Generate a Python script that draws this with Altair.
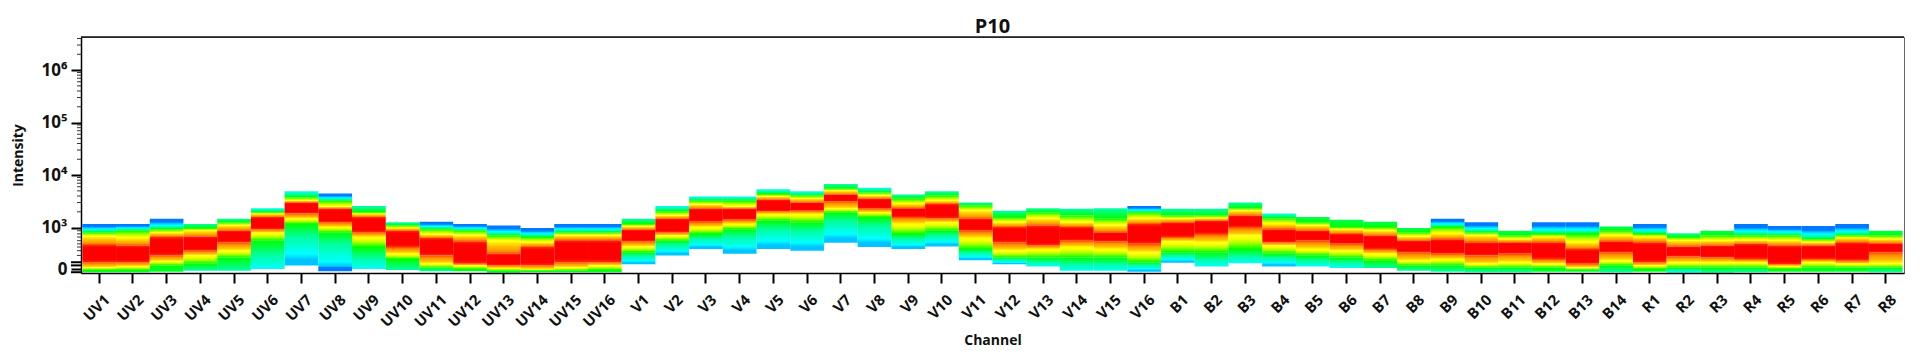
import altair as alt
import pandas as pd

uv = ["UV%d" % i for i in range(1, 17)]
v = ["V%d" % i for i in range(1, 17)]
b = ["B%d" % i for i in range(1, 15)]
r = ["R%d" % i for i in range(1, 9)]
channels = uv + v + b + r

# Density band edges per channel, in decades of intensity on the display scale:
# top, green top, yellow top, red top, red bottom, yellow bottom, green bottom, bottom
edges_uv = [
    [3.07,2.91,2.83,2.67,2.34,2.24,2.19,2.15],[3.07,2.94,2.80,2.66,2.34,2.26,2.19,2.15],
    [3.17,2.97,2.90,2.82,2.47,2.36,2.28,2.16],[3.07,2.99,2.94,2.83,2.56,2.47,2.31,2.18],
    [3.17,3.10,3.04,2.94,2.72,2.56,2.43,2.18],[3.37,3.29,3.26,3.20,2.97,2.90,2.75,2.21],
    [3.69,3.58,3.51,3.48,3.27,3.17,3.07,2.28],[3.65,3.51,3.40,3.36,3.10,3.01,2.91,2.17],
    [3.41,3.29,3.26,3.20,2.91,2.82,2.63,2.21],[3.10,3.04,2.99,2.94,2.63,2.50,2.40,2.19],
    [3.11,2.97,2.87,2.80,2.47,2.31,2.24,2.17],[3.07,2.94,2.85,2.74,2.31,2.28,2.21,2.17],
    [3.04,2.85,2.74,2.50,2.28,2.23,2.18,2.14],[2.99,2.82,2.72,2.63,2.28,2.21,2.18,2.15],
    [3.07,2.91,2.85,2.76,2.34,2.24,2.18,2.15],[3.07,2.91,2.85,2.76,2.34,2.28,2.19,2.15],
]
edges_v = [
    [3.17,3.07,3.02,2.96,2.74,2.64,2.53,2.30],[3.41,3.31,3.23,3.17,2.91,2.85,2.75,2.47],
    [3.59,3.51,3.44,3.36,3.11,3.01,2.88,2.59],[3.59,3.51,3.40,3.36,3.15,3.07,2.97,2.50],
    [3.73,3.64,3.59,3.53,3.31,3.26,3.13,2.59],[3.69,3.61,3.55,3.48,3.32,3.26,3.10,2.56],
    [3.83,3.74,3.70,3.63,3.50,3.36,3.29,2.71],[3.76,3.67,3.61,3.55,3.36,3.29,3.20,2.63],
    [3.63,3.55,3.45,3.37,3.20,3.07,2.88,2.59],[3.69,3.61,3.51,3.45,3.18,3.10,2.94,2.64],
    [3.48,3.42,3.32,3.17,2.94,2.80,2.59,2.38],[3.32,3.20,3.10,3.01,2.72,2.56,2.43,2.30],
    [3.37,3.29,3.17,3.04,2.66,2.59,2.43,2.26],[3.36,3.23,3.10,3.01,2.75,2.63,2.43,2.18],
    [3.37,3.17,3.04,2.91,2.74,2.59,2.43,2.18],[3.41,3.29,3.17,3.07,2.69,2.53,2.34,2.16],
]
edges_b = [
    [3.36,3.23,3.17,3.10,2.82,2.74,2.53,2.33],[3.36,3.23,3.18,3.13,2.88,2.72,2.53,2.26],
    [3.48,3.37,3.32,3.23,3.01,2.85,2.59,2.32],[3.27,3.18,3.07,2.97,2.72,2.66,2.50,2.26],
    [3.20,3.10,3.04,2.94,2.75,2.59,2.47,2.26],[3.15,3.01,2.97,2.88,2.69,2.56,2.43,2.23],
    [3.11,3.01,2.94,2.85,2.59,2.50,2.37,2.23],[2.99,2.91,2.83,2.75,2.53,2.37,2.28,2.18],
    [3.17,3.01,2.88,2.78,2.50,2.40,2.28,2.16],[3.10,2.91,2.85,2.72,2.47,2.31,2.24,2.15],
    [2.94,2.85,2.78,2.72,2.50,2.34,2.24,2.15],[3.10,2.88,2.82,2.72,2.40,2.31,2.24,2.16],
    [3.10,2.88,2.72,2.59,2.31,2.24,2.20,2.16],[3.02,2.94,2.85,2.74,2.53,2.37,2.28,2.15],
]
edges_r = [
    [3.07,2.88,2.82,2.72,2.34,2.28,2.21,2.16],[2.89,2.82,2.75,2.64,2.45,2.34,2.24,2.14],
    [2.94,2.85,2.75,2.66,2.43,2.34,2.24,2.14],[3.07,2.85,2.76,2.69,2.40,2.34,2.24,2.15],
    [3.03,2.85,2.75,2.66,2.30,2.27,2.21,2.16],[3.03,2.78,2.72,2.66,2.40,2.34,2.24,2.16],
    [3.07,2.85,2.80,2.72,2.37,2.31,2.24,2.16],[2.94,2.85,2.78,2.70,2.53,2.32,2.24,2.15],
]
edges = edges_uv + edges_v + edges_b + edges_r

top_tone = list("bbbssccbssbbbbbb" + "sccccc" + "scsssssssb" + "sssc" + "gggg" + "bbgbbg" + "bsgbbbbg")
bot_tone = list("gggsscabcssggggg" + "aaaaaaaaaaaa" + "ccca" + "accacc" + "ssss" + "sggs" + "gcssgggs")

major_ticks = [2.21, 3, 4, 5, 6]
thick_ticks = [2.15, 2.28, 2.34]
minor_ticks = [2.47, 2.56, 2.63, 2.69, 2.75, 2.82, 2.88, 2.94,
               3.301, 3.477, 3.602, 3.699, 3.778, 3.845, 3.903, 3.954,
               4.301, 4.477, 4.602, 4.699, 4.778, 4.845, 4.903, 4.954,
               5.301, 5.477, 5.602, 5.699, 5.778, 5.845, 5.903, 5.954,
               6.301, 6.477, 6.602]

BLUE, AZURE, CYAN, SPRING = "#0078ff", "#00c4ff", "#00ffff", "#00ff9c"
GREEN, LIME, YELLOW, ORANGE, RED = "#00ff00", "#a8ff00", "#ffff00", "#ff9000", "#ff0000"


def grad(*stops):
    return alt.Gradient(
        gradient="linear", x1=0, x2=0, y1=0, y2=1,
        stops=[alt.GradientStop(offset=o, color=c) for o, c in stops],
    )


top_grad = {
    "b": grad((0, BLUE), (0.32, BLUE), (0.45, AZURE), (0.62, CYAN), (0.82, SPRING), (1, GREEN)),
    "c": grad((0, CYAN), (0.5, SPRING), (1, GREEN)),
    "s": grad((0, "#00ffb0"), (1, GREEN)),
    "g": grad((0, "#00ff50"), (1, GREEN)),
}
bot_grad = {
    "g": grad((0, GREEN), (1, "#00ff30")),
    "s": grad((0, GREEN), (1, "#00ffa8")),
    "c": grad((0, GREEN), (0.5, SPRING), (1, CYAN)),
    "a": grad((0, GREEN), (0.3, SPRING), (0.72, CYAN), (0.86, AZURE), (1, AZURE)),
    "b": grad((0, GREEN), (0.3, SPRING), (0.75, CYAN), (0.88, AZURE), (0.9, BLUE), (1, BLUE)),
}
mid_grads = [
    (1, 2, grad((0, GREEN), (0.5, LIME), (0.85, YELLOW), (1, YELLOW))),
    (2, 3, grad((0, YELLOW), (0.4, "#ffc000"), (0.8, ORANGE), (1, "#ff4000"))),
    (3, 4, grad((0, "#ff3000"), (0.15, RED), (0.85, RED), (1, "#ff3000"))),
    (4, 5, grad((0, "#ff4000"), (0.3, ORANGE), (0.7, "#ffc000"), (1, YELLOW))),
    (5, 6, grad((0, YELLOW), (0.2, YELLOW), (0.55, LIME), (1, GREEN))),
]

font = "Open Sans"
x_scale = alt.Scale(domain=channels, paddingInner=0, paddingOuter=0.04)
y_scale = alt.Scale(domain=[2.135, 6.63], nice=False, zero=False)
y_axis = alt.Axis(
    values=major_ticks, title="Intensity", grid=False,
    labelExpr="datum.value<3?'0':datum.value==3?'10³':datum.value==4?'10⁴':datum.value==5?'10⁵':'10⁶'",
    labelFont=font, labelFontWeight="bold", labelFontSize=17, labelColor="#111",
    labelPadding=4, tickSize=10, tickWidth=2, tickColor="#000",
    domainColor="#000", domainWidth=1.5, titleFont=font, titleFontWeight="bold",
    titleFontSize=14, titleColor="#111", titlePadding=16,
)
x_axis = alt.Axis(
    title="Channel", labelAngle=-45, labelFont=font, labelFontWeight="bold",
    labelFontSize=15, labelColor="#111", labelAlign="right", labelBaseline="middle",
    labelPadding=14, labelOffset=8, tickSize=10, tickWidth=2, tickColor="#000", domainColor="#000",
    domainWidth=1.5, titleFont=font, titleFontWeight="bold", titleFontSize=14,
    titleColor="#111", titlePadding=4, grid=False,
)

rows = [dict(channel=c, top=t, bot=bo, **{"e%d" % i: e[i] for i in range(8)})
        for c, e, t, bo in zip(channels, edges, top_tone, bot_tone)]
df = pd.DataFrame(rows)


def seg(frame, hi, lo, fill):
    return alt.Chart(frame).mark_rect(fill=fill).encode(
        x=alt.X("channel:N", scale=x_scale, sort=channels, axis=x_axis),
        y=alt.Y("e%d:Q" % hi, scale=y_scale, axis=y_axis),
        y2=alt.Y2("e%d:Q" % lo),
    )


layers = []
for k, g in top_grad.items():
    frame = df[df.top == k]
    if len(frame):
        layers.append(seg(frame, 0, 1, g))
for a, z, g in mid_grads:
    layers.append(seg(df, a, z, g))
for k, g in bot_grad.items():
    frame = df[df.bot == k]
    if len(frame):
        layers.append(seg(frame, 6, 7, g))


def ticks(values, length, width, color, end=0):
    return alt.Chart(pd.DataFrame({"v": values})).mark_rule(
        strokeWidth=width, color=color
    ).encode(
        x=alt.value(-length), x2=alt.value(end),
        y=alt.Y("v:Q", scale=y_scale, axis=y_axis),
    )


layers.append(ticks(minor_ticks, 4, 1, "#333"))
layers.append(ticks(thick_ticks, 10, 2, "#000"))
layers.append(ticks([6.63], 0, 1.5, "#111", end=1823))

chart = alt.layer(*layers).properties(
    width=1823, height=236,
    title=alt.TitleParams("P10", font=font, fontWeight="bold", fontSize=20, color="#111",
                          anchor="middle", offset=-1),
    padding={"left": 3, "top": 9, "right": 0, "bottom": 6},
).configure_view(stroke="#666", strokeWidth=1)

chart.save("out.html", embed_options={"renderer": "svg", "actions": False})
